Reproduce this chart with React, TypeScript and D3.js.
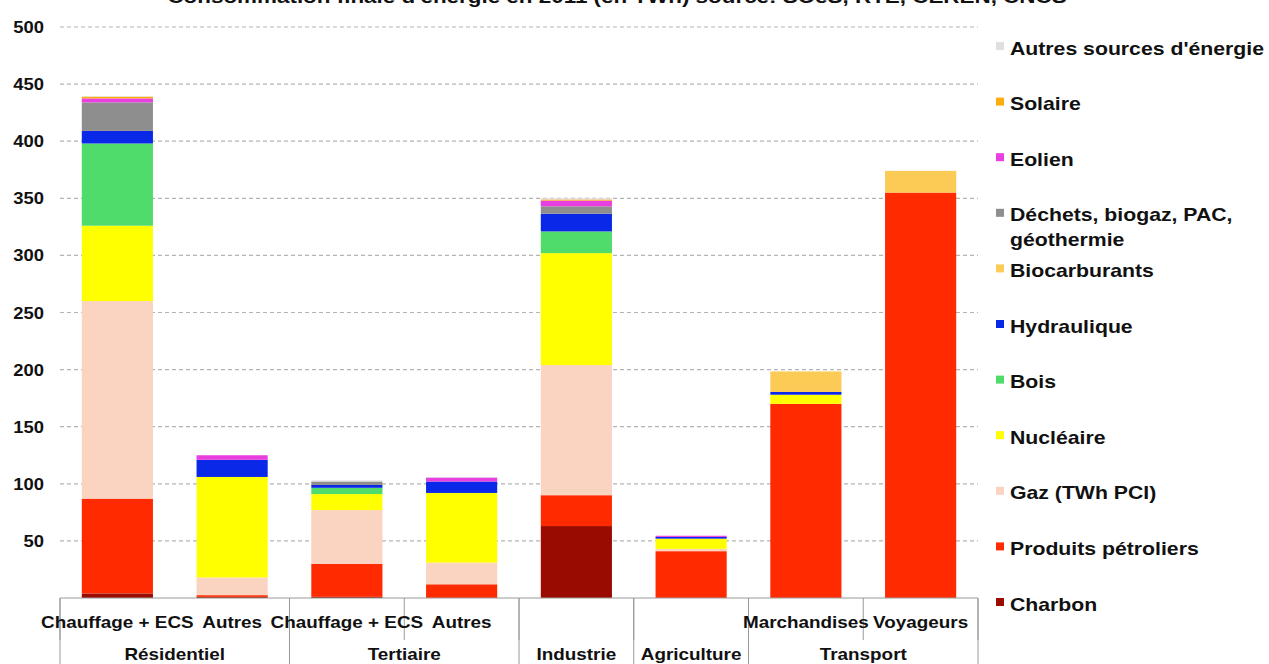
import React from "react";
import * as d3 from "d3";

// Final energy consumption by sector and source (TWh)
const subLabels = ["Chauffage + ECS", "Autres", "Chauffage + ECS", "Autres", "", "", "Marchandises", "Voyageurs"];
const groupNames = ["Résidentiel", "Tertiaire", "Industrie", "Agriculture", "Transport"];
const groupSpans = [2, 2, 1, 1, 2];

const charbon = [4, 1, 1, 0, 63, 0, 0, 0];
const petrole = [83, 1.5, 29, 12, 27, 41, 170, 355];
const gaz = [173, 15.5, 47, 19, 114, 2, 0, 0];
const nucleaire = [66, 88, 14, 61, 98, 9, 8, 0];
const bois = [72, 0, 5.5, 0, 19, 0, 0, 0];
const hydraulique = [11, 15, 2.5, 10, 15.5, 1.5, 2.4, 0];
const biocarburants = [0, 0, 0, 0, 0, 0, 18, 19];
const dechets = [25, 0, 3, 0, 6.5, 0, 0, 0];
const eolien = [3.5, 4, 0, 3.5, 5, 1, 0, 0];
const solaire = [1.5, 0, 0, 0, 1, 0, 0, 0];
const autres = [0.5, 0, 1, 0.5, 1, 0, 0, 0];

// stacking order, bottom to top
const seriesKeys = [
  "Charbon",
  "Produits pétroliers",
  "Gaz (TWh PCI)",
  "Nucléaire",
  "Bois",
  "Hydraulique",
  "Biocarburants",
  "Déchets, biogaz, PAC, géothermie",
  "Eolien",
  "Solaire",
  "Autres sources d'énergie",
];
const seriesValues = [charbon, petrole, gaz, nucleaire, bois, hydraulique, biocarburants, dechets, eolien, solaire, autres];
const seriesColors = [
  "#990a00",
  "#ff2a00",
  "#fbd3c1",
  "#ffff00",
  "#4fdc6b",
  "#0a28e8",
  "#fccb55",
  "#8e8e8e",
  "#ea3fe0",
  "#ffac10",
  "#e0e0e0",
];
const yTicks = [50, 100, 150, 200, 250, 300, 350, 400, 450, 500];

const W = 1269;
const H = 664;
const SX = 1.18; // horizontal text stretch
const FONT = "'Liberation Sans', Arial, sans-serif";

function SText({ x, y, size, anchor = "start", children, fill = "#111" }: any) {
  return (
    <text
      transform={`translate(${x},${y}) scale(${SX},1)`}
      fontFamily={FONT}
      fontWeight="bold"
      fontSize={size}
      textAnchor={anchor}
      fill={fill}
    >
      {children}
    </text>
  );
}

export default function App() {
  const n = subLabels.length;
  const x = d3.scaleBand<number>().domain(d3.range(n)).range([60, 978]).padding(0);
  const y = d3.scaleLinear().domain([0, 500]).range([598, 27]);
  const barW = x.step() * 0.62;

  const rows = d3.range(n).map((i) => {
    const r: any = { i };
    seriesKeys.forEach((k, s) => (r[k] = seriesValues[s][i]));
    return r;
  });
  const stacked = d3.stack<any>().keys(seriesKeys)(rows);

  // group boundaries
  const groupEdges: number[] = [0];
  groupSpans.forEach((s) => groupEdges.push(groupEdges[groupEdges.length - 1] + s));
  const edgeX = (k: number) => 60 + k * x.step();

  const legendTop = 48;
  const legendStep = 55.6;

  return (
    <svg
      width={W}
      height={H}
      style={{ position: "absolute", left: 0, top: 0, display: "block", background: "#fff" }}
    >
      <SText x={617} y={3} size={19} anchor="middle">
        Consommation finale d'énergie en 2011 (en TWh) source: SOeS, RTE, CEREN, CNCS
      </SText>

      {/* gridlines */}
      {yTicks.map((t) => (
        <line
          key={t}
          x1={60}
          x2={978}
          y1={y(t)}
          y2={y(t)}
          stroke="#b4b4b4"
          strokeWidth={1.2}
          strokeDasharray="4,3"
        />
      ))}
      {yTicks.map((t) => (
        <g key={"l" + t} transform={`translate(44,${y(t) + 6})`}>
          <text
            transform={`scale(1.15,1)`}
            fontFamily={FONT}
            fontWeight="bold"
            fontSize={16}
            textAnchor="end"
            fill="#111"
          >
            {t}
          </text>
        </g>
      ))}

      {/* stacked bars */}
      {stacked.map((layer, s) => (
        <g key={layer.key} fill={seriesColors[s]}>
          {layer.map((d, i) =>
            d[1] - d[0] > 0 ? (
              <rect
                key={i}
                x={(x(i) as number) + (x.step() - barW) / 2}
                width={barW}
                y={y(d[1])}
                height={y(d[0]) - y(d[1])}
              />
            ) : null
          )}
        </g>
      ))}

      {/* category axis */}
      <line x1={60} x2={978} y1={598} y2={598} stroke="#9a9a9a" strokeWidth={1} />
      {d3.range(n + 1).map((k) =>
        k === 1 ? null : (
          <line key={"t" + k} x1={edgeX(k)} x2={edgeX(k)} y1={598} y2={640} stroke="#9a9a9a" strokeWidth={1} />
        )
      )}
      {groupEdges.map((k) => (
        <line key={"g" + k} x1={edgeX(k)} x2={edgeX(k)} y1={598} y2={664} stroke="#9a9a9a" strokeWidth={1} />
      ))}
      {subLabels.map((l, i) =>
        l ? (
          <SText key={"s" + i} x={(x(i) as number) + x.step() / 2} y={628} size={16} anchor="middle">
            {l}
          </SText>
        ) : null
      )}
      {groupNames.map((g, gi) => (
        <SText
          key={"gn" + gi}
          x={(edgeX(groupEdges[gi]) + edgeX(groupEdges[gi + 1])) / 2}
          y={660}
          size={16}
          anchor="middle"
        >
          {g}
        </SText>
      ))}

      {/* legend, top entry is the last stacked series */}
      {seriesKeys
        .map((k, s) => ({ k, s }))
        .reverse()
        .map(({ k, s }, i) => {
          const cy = legendTop + i * legendStep;
          const lines = k === "Déchets, biogaz, PAC, géothermie" ? ["Déchets, biogaz, PAC,", "géothermie"] : [k];
          return (
            <g key={k}>
              <rect x={996} y={cy - 6} width={8} height={8} fill={seriesColors[s]} />
              {lines.map((ln, li) => (
                <SText key={li} x={1010} y={cy + 6.5 + li * 25} size={18}>
                  {ln}
                </SText>
              ))}
            </g>
          );
        })}
    </svg>
  );
}
